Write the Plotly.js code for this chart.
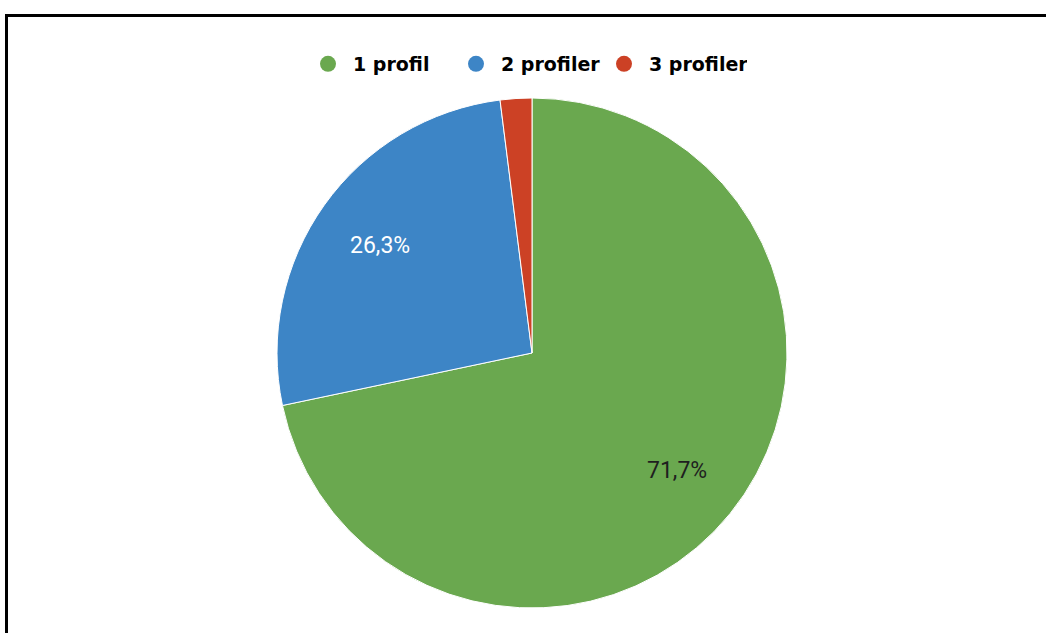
<!DOCTYPE html>
<html>
<head>
<meta charset="utf-8">
<script src="https://cdn.plot.ly/plotly-3.0.1.min.js"></script>
<style>
  html, body { margin: 0; padding: 0; background: #fff; }
  #wrap { position: relative; width: 1046px; height: 633px; overflow: hidden; }
  #chart { position: absolute; left: 0; top: 0; width: 1046px; height: 633px; }
  #frame { position: absolute; left: 5px; top: 14px; width: 1200px; height: 800px;
           border-top: 3px solid #000; border-left: 3px solid #000; pointer-events: none; }
</style>
</head>
<body>
<div id="wrap">
  <div id="chart"></div>
  <div id="frame"></div>
</div>
<script>
const categories = ["1 profil", "2 profiler", "3 profiler"];
const values = [71.7, 26.3, 2.0];
const colors = ["#6aa84f", "#3d85c6", "#cc4125"];
const textColors = ["#1f1f1f", "#ffffff", "#ffffff"];

const W = 1046, H = 633;
const cx = 532, cy = 353, R = 255;

const pie = {
  type: "pie",
  labels: categories,
  values: values,
  sort: false,
  direction: "clockwise",
  rotation: 0,
  marker: { colors: colors, line: { color: "#ffffff", width: 1 } },
  textinfo: "none",
  hoverinfo: "label+percent",
  showlegend: false,
  domain: {
    x: [(cx - R) / W, (cx + R) / W],
    y: [1 - (cy + R) / H, 1 - (cy - R) / H]
  }
};

const legendTraces = categories.map((c, i) => ({
  type: "scatter",
  mode: "markers",
  x: [null], y: [null],
  name: c,
  marker: { color: colors[i], size: 18, symbol: "circle" },
  showlegend: true,
  hoverinfo: "skip"
}));

// percentage labels placed along each slice's mid-angle (derived from the data)
const total = values.reduce((a, b) => a + b, 0);
const annotations = [];
let cum = 0;
values.forEach((v, i) => {
  const frac = v / total;
  const mid = 2 * Math.PI * (cum + frac / 2);
  cum += frac;
  if (frac < 0.05) return;
  const px = cx + 0.73 * R * Math.sin(mid);
  const py = cy - 0.73 * R * Math.cos(mid);
  annotations.push({
    xref: "paper", yref: "paper",
    x: px / W, y: 1 - py / H,
    xanchor: "center", yanchor: "middle",
    showarrow: false,
    text: (frac * 100).toFixed(1).replace(".", ",") + "%",
    font: { family: "Roboto, Arial, sans-serif", size: 23, color: textColors[i] }
  });
});

const layout = {
  width: W, height: H,
  margin: { l: 0, r: 0, t: 0, b: 0 },
  paper_bgcolor: "#ffffff",
  plot_bgcolor: "#ffffff",
  separators: ",.",
  xaxis: { visible: false },
  yaxis: { visible: false },
  showlegend: true,
  annotations: annotations,
  legend: {
    orientation: "h",
    x: 525 / W, xanchor: "center",
    y: 1 - 64 / H, yanchor: "middle",
    font: { family: "DejaVu Sans, Arial, sans-serif", size: 19, color: "#000000", weight: "bold" },
    itemwidth: 40,
    entrywidth: 93,
    entrywidthmode: "pixels",
    itemclick: false,
    tracegroupgap: 0
  }
};

Plotly.newPlot("chart", [pie, ...legendTraces], layout, { displayModeBar: false, staticPlot: true });
</script>
</body>
</html>
